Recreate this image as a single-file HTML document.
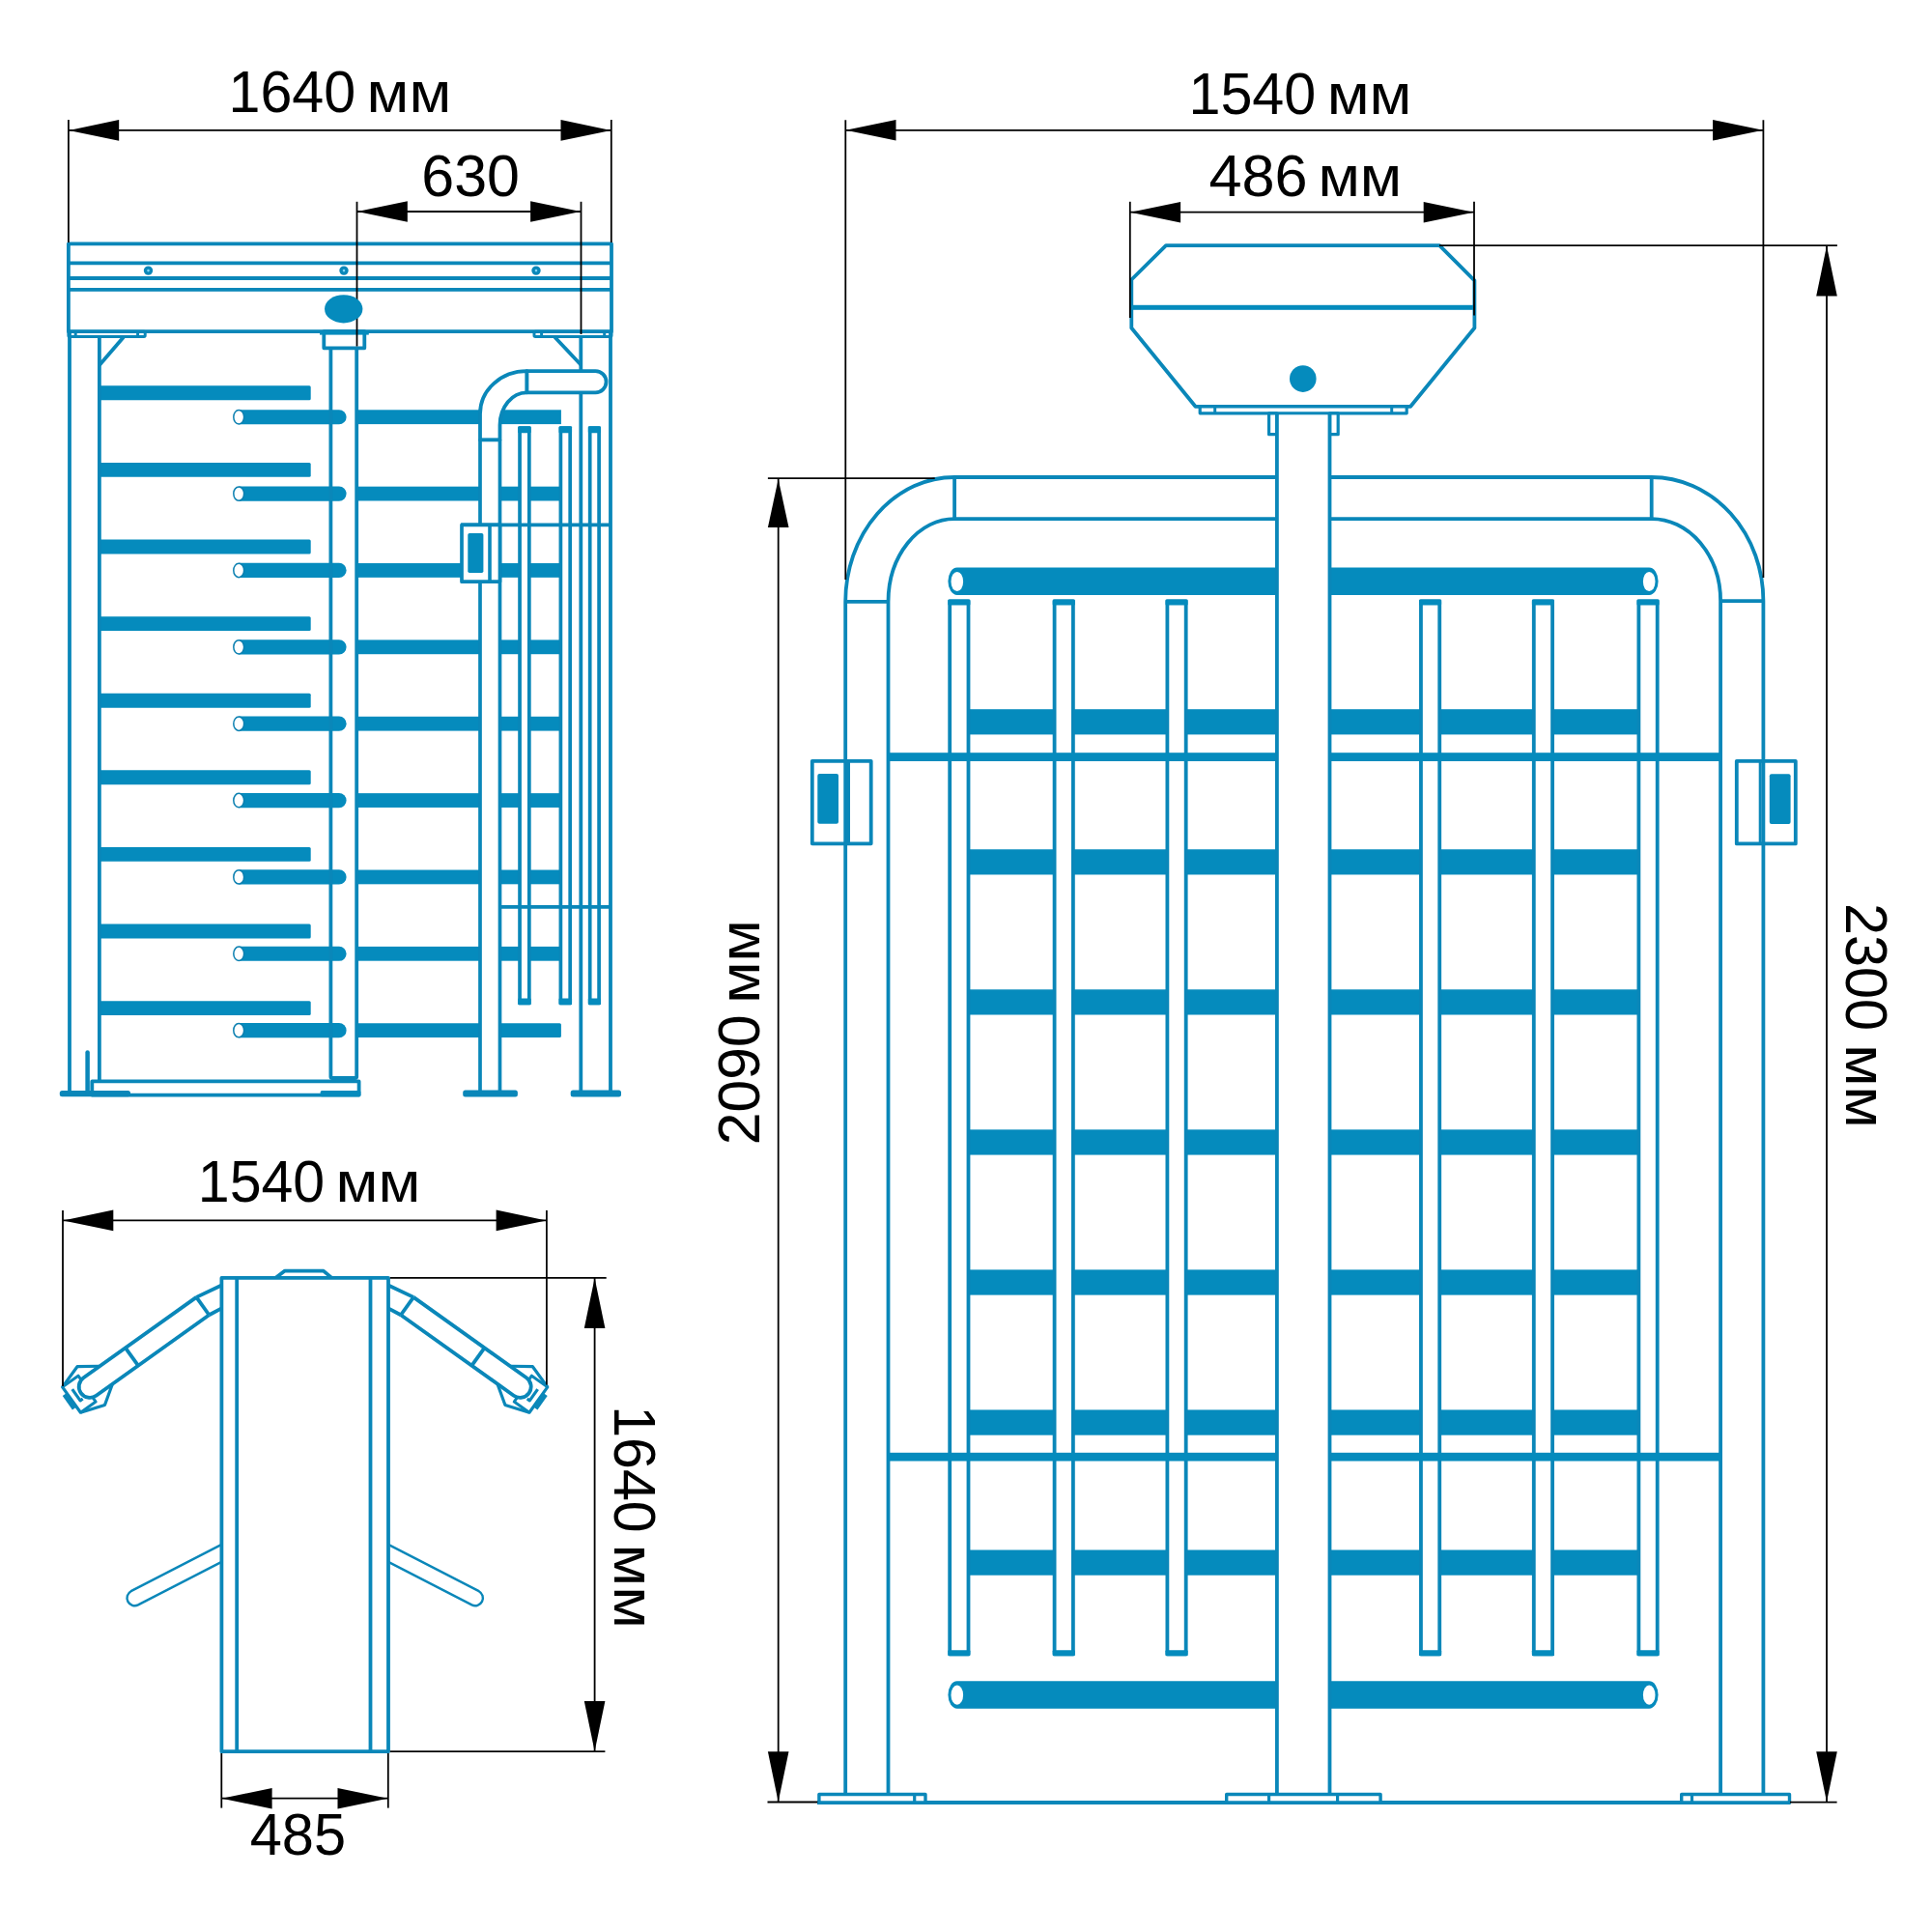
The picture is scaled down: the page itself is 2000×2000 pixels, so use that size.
<!DOCTYPE html>
<html lang="ru"><head><meta charset="utf-8"><title>Габаритные размеры турникета</title>
<style>html,body{margin:0;padding:0;background:#fff}svg{display:block}</style></head>
<body><svg width="2000" height="2000" viewBox="0 0 2000 2000">
<rect width="2000" height="2000" fill="#fff"/>
<g id="side">
<rect x="369.20" y="424.30" width="211.70" height="14.80" rx="0" fill="#058bbd"/>
<rect x="369.20" y="503.67" width="211.70" height="14.80" rx="0" fill="#058bbd"/>
<rect x="369.20" y="583.04" width="211.70" height="14.80" rx="0" fill="#058bbd"/>
<rect x="369.20" y="662.41" width="211.70" height="14.80" rx="0" fill="#058bbd"/>
<rect x="369.20" y="741.78" width="211.70" height="14.80" rx="0" fill="#058bbd"/>
<rect x="369.20" y="821.15" width="211.70" height="14.80" rx="0" fill="#058bbd"/>
<rect x="369.20" y="900.52" width="211.70" height="14.80" rx="0" fill="#058bbd"/>
<rect x="369.20" y="979.89" width="211.70" height="14.80" rx="0" fill="#058bbd"/>
<path d="M369.2 1059.26H579.4a1.5 1.5 0 0 1 1.5 1.5V1072.56a1.5 1.5 0 0 1 -1.5 1.5H369.2Z" fill="#058bbd" stroke-linejoin="round" />
<path d="M102.9 399.35H320.2a1.5 1.5 0 0 1 1.5 1.5V412.75a1.5 1.5 0 0 1 -1.5 1.5H102.9Z" fill="#058bbd" stroke-linejoin="round" />
<path d="M102.9 478.95H320.2a1.5 1.5 0 0 1 1.5 1.5V492.35a1.5 1.5 0 0 1 -1.5 1.5H102.9Z" fill="#058bbd" stroke-linejoin="round" />
<path d="M102.9 558.55H320.2a1.5 1.5 0 0 1 1.5 1.5V571.95a1.5 1.5 0 0 1 -1.5 1.5H102.9Z" fill="#058bbd" stroke-linejoin="round" />
<path d="M102.9 638.15H320.2a1.5 1.5 0 0 1 1.5 1.5V651.55a1.5 1.5 0 0 1 -1.5 1.5H102.9Z" fill="#058bbd" stroke-linejoin="round" />
<path d="M102.9 717.75H320.2a1.5 1.5 0 0 1 1.5 1.5V731.15a1.5 1.5 0 0 1 -1.5 1.5H102.9Z" fill="#058bbd" stroke-linejoin="round" />
<path d="M102.9 797.35H320.2a1.5 1.5 0 0 1 1.5 1.5V810.75a1.5 1.5 0 0 1 -1.5 1.5H102.9Z" fill="#058bbd" stroke-linejoin="round" />
<path d="M102.9 876.95H320.2a1.5 1.5 0 0 1 1.5 1.5V890.35a1.5 1.5 0 0 1 -1.5 1.5H102.9Z" fill="#058bbd" stroke-linejoin="round" />
<path d="M102.9 956.55H320.2a1.5 1.5 0 0 1 1.5 1.5V969.95a1.5 1.5 0 0 1 -1.5 1.5H102.9Z" fill="#058bbd" stroke-linejoin="round" />
<path d="M102.9 1036.15H320.2a1.5 1.5 0 0 1 1.5 1.5V1049.55a1.5 1.5 0 0 1 -1.5 1.5H102.9Z" fill="#058bbd" stroke-linejoin="round" />
<path d="M247.2 424.15H351.0a7.6 7.6 0 0 1 0 15.2H247.2Z" fill="#058bbd" stroke-linejoin="round" />
<ellipse cx="247.2" cy="431.75" rx="5.4" ry="7.2" fill="#fff" stroke="#0a7fb0" stroke-width="1.5"/>
<path d="M247.2 503.51H351.0a7.6 7.6 0 0 1 0 15.2H247.2Z" fill="#058bbd" stroke-linejoin="round" />
<ellipse cx="247.2" cy="511.11" rx="5.4" ry="7.2" fill="#fff" stroke="#0a7fb0" stroke-width="1.5"/>
<path d="M247.2 582.87H351.0a7.6 7.6 0 0 1 0 15.2H247.2Z" fill="#058bbd" stroke-linejoin="round" />
<ellipse cx="247.2" cy="590.47" rx="5.4" ry="7.2" fill="#fff" stroke="#0a7fb0" stroke-width="1.5"/>
<path d="M247.2 662.23H351.0a7.6 7.6 0 0 1 0 15.2H247.2Z" fill="#058bbd" stroke-linejoin="round" />
<ellipse cx="247.2" cy="669.83" rx="5.4" ry="7.2" fill="#fff" stroke="#0a7fb0" stroke-width="1.5"/>
<path d="M247.2 741.59H351.0a7.6 7.6 0 0 1 0 15.2H247.2Z" fill="#058bbd" stroke-linejoin="round" />
<ellipse cx="247.2" cy="749.19" rx="5.4" ry="7.2" fill="#fff" stroke="#0a7fb0" stroke-width="1.5"/>
<path d="M247.2 820.95H351.0a7.6 7.6 0 0 1 0 15.2H247.2Z" fill="#058bbd" stroke-linejoin="round" />
<ellipse cx="247.2" cy="828.55" rx="5.4" ry="7.2" fill="#fff" stroke="#0a7fb0" stroke-width="1.5"/>
<path d="M247.2 900.31H351.0a7.6 7.6 0 0 1 0 15.2H247.2Z" fill="#058bbd" stroke-linejoin="round" />
<ellipse cx="247.2" cy="907.91" rx="5.4" ry="7.2" fill="#fff" stroke="#0a7fb0" stroke-width="1.5"/>
<path d="M247.2 979.67H351.0a7.6 7.6 0 0 1 0 15.2H247.2Z" fill="#058bbd" stroke-linejoin="round" />
<ellipse cx="247.2" cy="987.27" rx="5.4" ry="7.2" fill="#fff" stroke="#0a7fb0" stroke-width="1.5"/>
<path d="M247.2 1059.03H351.0a7.6 7.6 0 0 1 0 15.2H247.2Z" fill="#058bbd" stroke-linejoin="round" />
<ellipse cx="247.2" cy="1066.63" rx="5.4" ry="7.2" fill="#fff" stroke="#0a7fb0" stroke-width="1.5"/>
<rect x="70.90" y="252.40" width="562.10" height="90.80" rx="0" fill="none" stroke="#0a87b9" stroke-width="3.8" stroke-linejoin="round"/>
<line x1="70.90" y1="272.40" x2="633.00" y2="272.40" stroke="#0a87b9" stroke-width="3.8" stroke-linecap="butt"/>
<line x1="70.90" y1="288.00" x2="633.00" y2="288.00" stroke="#0a87b9" stroke-width="3.8" stroke-linecap="butt"/>
<line x1="70.90" y1="299.90" x2="633.00" y2="299.90" stroke="#0a87b9" stroke-width="3.8" stroke-linecap="butt"/>
<circle cx="153.5" cy="280.1" r="3.0" fill="#7fd4f5" stroke="#0a87b9" stroke-width="3.4"/>
<circle cx="356" cy="280.1" r="3.0" fill="#7fd4f5" stroke="#0a87b9" stroke-width="3.4"/>
<circle cx="555" cy="280.1" r="3.0" fill="#7fd4f5" stroke="#0a87b9" stroke-width="3.4"/>
<line x1="72.00" y1="343.00" x2="72.00" y2="1131.00" stroke="#0a87b9" stroke-width="3.8" stroke-linecap="butt"/>
<line x1="102.90" y1="349.00" x2="102.90" y2="1119.40" stroke="#0a87b9" stroke-width="3.8" stroke-linecap="butt"/>
<rect x="70.90" y="343.20" width="79.30" height="5.30" rx="1.2" fill="none" stroke="#0a87b9" stroke-width="3.0" stroke-linejoin="round"/>
<line x1="78.20" y1="343.20" x2="78.20" y2="348.50" stroke="#0a87b9" stroke-width="3" stroke-linecap="butt"/>
<line x1="142.60" y1="343.20" x2="142.60" y2="348.50" stroke="#0a87b9" stroke-width="3" stroke-linecap="butt"/>
<line x1="127.90" y1="349.00" x2="102.90" y2="378.00" stroke="#0a87b9" stroke-width="3.8" stroke-linecap="butt"/>
<line x1="601.30" y1="349.00" x2="601.30" y2="1129.00" stroke="#0a87b9" stroke-width="3.8" stroke-linecap="butt"/>
<line x1="632.00" y1="343.00" x2="632.00" y2="1129.00" stroke="#0a87b9" stroke-width="3.8" stroke-linecap="butt"/>
<rect x="553.00" y="343.20" width="80.00" height="5.30" rx="1.2" fill="none" stroke="#0a87b9" stroke-width="3.0" stroke-linejoin="round"/>
<line x1="625.70" y1="343.20" x2="625.70" y2="348.50" stroke="#0a87b9" stroke-width="3" stroke-linecap="butt"/>
<line x1="560.60" y1="343.20" x2="560.60" y2="348.50" stroke="#0a87b9" stroke-width="3" stroke-linecap="butt"/>
<line x1="574.30" y1="349.00" x2="601.40" y2="377.70" stroke="#0a87b9" stroke-width="3.8" stroke-linecap="butt"/>
<rect x="335.30" y="343.20" width="42.00" height="17.10" rx="0" fill="#fff" stroke="#0a87b9" stroke-width="3.8" stroke-linejoin="round"/>
<rect x="331.00" y="343.00" width="50.80" height="3.60" rx="0" fill="#058bbd"/>
<path d="M342.4 360.3V1114.5a1.5 1.5 0 0 0 1.5 1.5H367.7a1.5 1.5 0 0 0 1.5 -1.5V360.3" fill="none" stroke="#0a87b9" stroke-width="3.8" stroke-linejoin="round" />
<line x1="348.50" y1="1116.00" x2="348.50" y2="1119.40" stroke="#0a87b9" stroke-width="3" stroke-linecap="butt"/>
<line x1="364.00" y1="1116.00" x2="364.00" y2="1119.40" stroke="#0a87b9" stroke-width="3" stroke-linecap="butt"/>
<rect x="95.30" y="1119.40" width="276.30" height="14.20" rx="0" fill="none" stroke="#0a87b9" stroke-width="3.8" stroke-linejoin="round"/>
<rect x="61.80" y="1128.90" width="73.20" height="6.40" rx="2.5" fill="#0a87b9"/>
<rect x="331.70" y="1128.90" width="41.70" height="6.40" rx="1.5" fill="#058bbd"/>
<line x1="90.60" y1="1089.50" x2="90.60" y2="1130.00" stroke="#0a87b9" stroke-width="4.5" stroke-linecap="round"/>
<path d="M545.3 384.2H616.5a11.05 11.05 0 0 1 0 22.1H545.3Z" fill="#fff" stroke="#0a87b9" stroke-width="3.8" stroke-linejoin="round" />
<path d="M545.3 384.2A48.3 44 0 0 0 497 428.2V455.5H517.5V440A27.8 33.7 0 0 1 545.3 406.3Z" fill="#fff" stroke="#0a87b9" stroke-width="3.8" stroke-linejoin="round" />
<path d="M497 455.5V1131H517.5V455.5Z" fill="#fff" stroke="#0a87b9" stroke-width="3.7" stroke-linejoin="round" />
<rect x="538.05" y="443.20" width="9.80" height="595.20" rx="0" fill="#fff" stroke="#0a87b9" stroke-width="3.7" stroke-linejoin="round"/>
<rect x="536.20" y="441.30" width="13.50" height="7.00" rx="1" fill="#058bbd"/>
<rect x="536.20" y="1033.60" width="13.50" height="6.70" rx="1" fill="#058bbd"/>
<rect x="580.40" y="443.20" width="9.80" height="595.20" rx="0" fill="#fff" stroke="#0a87b9" stroke-width="3.7" stroke-linejoin="round"/>
<rect x="578.55" y="441.30" width="13.50" height="7.00" rx="1" fill="#058bbd"/>
<rect x="578.55" y="1033.60" width="13.50" height="6.70" rx="1" fill="#058bbd"/>
<rect x="610.70" y="443.20" width="9.40" height="595.20" rx="0" fill="#fff" stroke="#0a87b9" stroke-width="3.7" stroke-linejoin="round"/>
<rect x="608.85" y="441.30" width="13.10" height="7.00" rx="1" fill="#058bbd"/>
<rect x="608.85" y="1033.60" width="13.10" height="6.70" rx="1" fill="#058bbd"/>
<line x1="477.00" y1="543.40" x2="632.00" y2="543.40" stroke="#0a87b9" stroke-width="3.7" stroke-linecap="butt"/>
<line x1="517.50" y1="938.80" x2="632.00" y2="938.80" stroke="#0a87b9" stroke-width="3.7" stroke-linecap="butt"/>
<rect x="478.00" y="543.40" width="39.50" height="58.80" rx="0" fill="#fff" stroke="#0a87b9" stroke-width="3.7" stroke-linejoin="round"/>
<line x1="507.00" y1="543.40" x2="507.00" y2="602.20" stroke="#0a87b9" stroke-width="3.6" stroke-linecap="butt"/>
<rect x="484.30" y="552.10" width="16.10" height="40.90" rx="1.7" fill="#058bbd"/>
<rect x="479.20" y="1128.40" width="56.70" height="7.00" rx="2.5" fill="#0a87b9"/>
<rect x="590.70" y="1128.40" width="52.30" height="7.00" rx="2.5" fill="#0a87b9"/>
</g>
<line x1="70.90" y1="124.00" x2="70.90" y2="251.00" stroke="#000" stroke-width="1.8" stroke-linecap="butt"/>
<line x1="632.80" y1="124.00" x2="632.80" y2="251.00" stroke="#000" stroke-width="1.8" stroke-linecap="butt"/>
<line x1="70.90" y1="134.90" x2="632.80" y2="134.90" stroke="#000" stroke-width="1.8" stroke-linecap="butt"/>
<polygon points="71.20,134.90 123.20,124.10 123.20,145.70" fill="#000"/>
<polygon points="632.50,134.90 580.50,124.10 580.50,145.70" fill="#000"/>
<line x1="369.50" y1="208.80" x2="369.50" y2="358.50" stroke="#000" stroke-width="1.8" stroke-linecap="butt"/>
<line x1="601.50" y1="208.80" x2="601.50" y2="346.00" stroke="#000" stroke-width="1.8" stroke-linecap="butt"/>
<line x1="369.50" y1="219.00" x2="601.40" y2="219.00" stroke="#000" stroke-width="1.8" stroke-linecap="butt"/>
<polygon points="369.80,219.00 421.80,208.20 421.80,229.80" fill="#000"/>
<polygon points="601.10,219.00 549.10,208.20 549.10,229.80" fill="#000"/>
<ellipse cx="355.7" cy="319.8" rx="19.7" ry="14.6" fill="#058bbd"/>
<g id="plan">
<g>
<path d="M229.4 1330.5L203.3 1342.85 M229.4 1354.3L216.5 1361.25" fill="none" stroke="#0a87b9" stroke-width="3.8" stroke-linejoin="round" />
<g transform="matrix(-0.814 0.581 0.581 0.814 93 1435.5)">
<path d="M-20 -11.8L-1.5 -24.5L23.3 -16.2V16.2L-1.5 24.5L-20 11.8" fill="#fff" stroke="#0a87b9" stroke-width="3.2" stroke-linejoin="round" />
<path d="M23.3 -16.2H3.2V-11 M23.3 16.2H4V11" fill="none" stroke="#0a87b9" stroke-width="3" stroke-linejoin="round" />
<path d="M-143.6 -11.3H0A11.3 11.3 0 0 1 0 11.3H-143.6" fill="#fff" stroke="#0a87b9" stroke-width="3.8" stroke-linejoin="round" />
<line x1="-143.60" y1="-11.30" x2="-143.60" y2="11.30" stroke="#0a87b9" stroke-width="3.8" stroke-linecap="butt"/>
<line x1="-53.40" y1="-11.30" x2="-53.40" y2="11.30" stroke="#0a87b9" stroke-width="3.8" stroke-linecap="butt"/>
<line x1="26.00" y1="-8.60" x2="26.00" y2="9.00" stroke="#0a87b9" stroke-width="5.2" stroke-linecap="butt"/>
<path d="M16.4 -8.4V5.9H13.2" fill="none" stroke="#0a87b9" stroke-width="3.2" stroke-linejoin="round" />
</g></g>
<g transform="translate(631.4 0) scale(-1 1)">
<g>
<path d="M229.4 1330.5L203.3 1342.85 M229.4 1354.3L216.5 1361.25" fill="none" stroke="#0a87b9" stroke-width="3.8" stroke-linejoin="round" />
<g transform="matrix(-0.814 0.581 0.581 0.814 93 1435.5)">
<path d="M-20 -11.8L-1.5 -24.5L23.3 -16.2V16.2L-1.5 24.5L-20 11.8" fill="#fff" stroke="#0a87b9" stroke-width="3.2" stroke-linejoin="round" />
<path d="M23.3 -16.2H3.2V-11 M23.3 16.2H4V11" fill="none" stroke="#0a87b9" stroke-width="3" stroke-linejoin="round" />
<path d="M-143.6 -11.3H0A11.3 11.3 0 0 1 0 11.3H-143.6" fill="#fff" stroke="#0a87b9" stroke-width="3.8" stroke-linejoin="round" />
<line x1="-143.60" y1="-11.30" x2="-143.60" y2="11.30" stroke="#0a87b9" stroke-width="3.8" stroke-linecap="butt"/>
<line x1="-53.40" y1="-11.30" x2="-53.40" y2="11.30" stroke="#0a87b9" stroke-width="3.8" stroke-linecap="butt"/>
<line x1="26.00" y1="-8.60" x2="26.00" y2="9.00" stroke="#0a87b9" stroke-width="5.2" stroke-linecap="butt"/>
<path d="M16.4 -8.4V5.9H13.2" fill="none" stroke="#0a87b9" stroke-width="3.2" stroke-linejoin="round" />
</g></g>
</g>
<path d="M229.4 1598.9L135.64 1647.19A8 8 0 0 0 142.96 1661.41L229.4 1616.9" fill="#fff" stroke="#0a87b9" stroke-width="2.4" stroke-linejoin="round" />
<g transform="translate(631.4 0) scale(-1 1)">
<path d="M229.4 1598.9L135.64 1647.19A8 8 0 0 0 142.96 1661.41L229.4 1616.9" fill="#fff" stroke="#0a87b9" stroke-width="2.4" stroke-linejoin="round" />
</g>
<path d="M285.1 1322.9L294.9 1315.6H334.8L343.5 1322.9" fill="#fff" stroke="#0a87b9" stroke-width="3.8" stroke-linejoin="round" />
<rect x="229.40" y="1322.90" width="172.60" height="490.30" rx="0" fill="#fff" stroke="#0a87b9" stroke-width="3.8" stroke-linejoin="round"/>
<line x1="245.20" y1="1322.90" x2="245.20" y2="1813.20" stroke="#0a87b9" stroke-width="3.8" stroke-linecap="butt"/>
<line x1="383.50" y1="1322.90" x2="383.50" y2="1813.20" stroke="#0a87b9" stroke-width="3.8" stroke-linecap="butt"/>
</g>
<line x1="65.00" y1="1252.90" x2="65.00" y2="1435.00" stroke="#000" stroke-width="1.8" stroke-linecap="butt"/>
<line x1="565.90" y1="1252.90" x2="565.90" y2="1433.40" stroke="#000" stroke-width="1.8" stroke-linecap="butt"/>
<line x1="65.00" y1="1263.40" x2="565.90" y2="1263.40" stroke="#000" stroke-width="1.8" stroke-linecap="butt"/>
<polygon points="65.30,1263.40 117.30,1252.60 117.30,1274.20" fill="#000"/>
<polygon points="565.60,1263.40 513.60,1252.60 513.60,1274.20" fill="#000"/>
<line x1="403.80" y1="1322.80" x2="627.70" y2="1322.80" stroke="#000" stroke-width="1.8" stroke-linecap="butt"/>
<line x1="403.80" y1="1813.20" x2="626.40" y2="1813.20" stroke="#000" stroke-width="1.8" stroke-linecap="butt"/>
<line x1="615.60" y1="1322.80" x2="615.60" y2="1813.20" stroke="#000" stroke-width="1.8" stroke-linecap="butt"/>
<polygon points="615.60,1323.10 604.80,1375.10 626.40,1375.10" fill="#000"/>
<polygon points="615.60,1812.90 604.80,1760.90 626.40,1760.90" fill="#000"/>
<line x1="229.30" y1="1815.00" x2="229.30" y2="1871.60" stroke="#000" stroke-width="1.8" stroke-linecap="butt"/>
<line x1="401.80" y1="1815.00" x2="401.80" y2="1871.60" stroke="#000" stroke-width="1.8" stroke-linecap="butt"/>
<line x1="229.30" y1="1861.70" x2="401.80" y2="1861.70" stroke="#000" stroke-width="1.8" stroke-linecap="butt"/>
<polygon points="229.60,1861.70 281.60,1850.90 281.60,1872.50" fill="#000"/>
<polygon points="401.50,1861.70 349.50,1850.90 349.50,1872.50" fill="#000"/>
<g id="front">
<path d="M875.2 1857.5V622.9A112.9 128.9 0 0 1 988.1 494H1709.7A115.7 128.2 0 0 1 1825.4 622.2V1857.5" fill="none" stroke="#0a87b9" stroke-width="3.8" stroke-linejoin="round" />
<path d="M919.5 1857.5V622.9A68.6 85.8 0 0 1 988.1 537.1H1709.7A71.4 85.1 0 0 1 1781.1 622.2V1857.5" fill="none" stroke="#0a87b9" stroke-width="3.8" stroke-linejoin="round" />
<line x1="988.10" y1="494.00" x2="988.10" y2="537.10" stroke="#0a87b9" stroke-width="3.8" stroke-linecap="butt"/>
<line x1="1709.70" y1="494.00" x2="1709.70" y2="537.10" stroke="#0a87b9" stroke-width="3.8" stroke-linecap="butt"/>
<line x1="875.20" y1="622.90" x2="919.50" y2="622.90" stroke="#0a87b9" stroke-width="3.8" stroke-linecap="butt"/>
<line x1="1781.10" y1="622.20" x2="1825.40" y2="622.20" stroke="#0a87b9" stroke-width="3.8" stroke-linecap="butt"/>
<rect x="1002.00" y="734.20" width="695.00" height="26.20" rx="0" fill="#058bbd"/>
<rect x="1002.00" y="879.25" width="695.00" height="26.20" rx="0" fill="#058bbd"/>
<rect x="1002.00" y="1024.30" width="695.00" height="26.20" rx="0" fill="#058bbd"/>
<rect x="1002.00" y="1169.35" width="695.00" height="26.20" rx="0" fill="#058bbd"/>
<rect x="1002.00" y="1314.40" width="695.00" height="26.20" rx="0" fill="#058bbd"/>
<rect x="1002.00" y="1459.45" width="695.00" height="26.20" rx="0" fill="#058bbd"/>
<rect x="1002.00" y="1604.50" width="695.00" height="26.20" rx="0" fill="#058bbd"/>
<rect x="983.20" y="622.40" width="19.30" height="1089.90" rx="0" fill="#fff" stroke="#0a87b9" stroke-width="3.8" stroke-linejoin="round"/>
<rect x="981.30" y="620.50" width="23.10" height="6.10" rx="1" fill="#058bbd"/>
<rect x="981.30" y="1708.20" width="23.10" height="6.00" rx="1" fill="#058bbd"/>
<rect x="1091.60" y="622.40" width="19.30" height="1089.90" rx="0" fill="#fff" stroke="#0a87b9" stroke-width="3.8" stroke-linejoin="round"/>
<rect x="1089.70" y="620.50" width="23.10" height="6.10" rx="1" fill="#058bbd"/>
<rect x="1089.70" y="1708.20" width="23.10" height="6.00" rx="1" fill="#058bbd"/>
<rect x="1208.40" y="622.40" width="19.30" height="1089.90" rx="0" fill="#fff" stroke="#0a87b9" stroke-width="3.8" stroke-linejoin="round"/>
<rect x="1206.50" y="620.50" width="23.10" height="6.10" rx="1" fill="#058bbd"/>
<rect x="1206.50" y="1708.20" width="23.10" height="6.00" rx="1" fill="#058bbd"/>
<rect x="1470.95" y="622.40" width="19.30" height="1089.90" rx="0" fill="#fff" stroke="#0a87b9" stroke-width="3.8" stroke-linejoin="round"/>
<rect x="1469.05" y="620.50" width="23.10" height="6.10" rx="1" fill="#058bbd"/>
<rect x="1469.05" y="1708.20" width="23.10" height="6.00" rx="1" fill="#058bbd"/>
<rect x="1587.80" y="622.40" width="19.30" height="1089.90" rx="0" fill="#fff" stroke="#0a87b9" stroke-width="3.8" stroke-linejoin="round"/>
<rect x="1585.90" y="620.50" width="23.10" height="6.10" rx="1" fill="#058bbd"/>
<rect x="1585.90" y="1708.20" width="23.10" height="6.00" rx="1" fill="#058bbd"/>
<rect x="1696.40" y="622.40" width="19.30" height="1089.90" rx="0" fill="#fff" stroke="#0a87b9" stroke-width="3.8" stroke-linejoin="round"/>
<rect x="1694.50" y="620.50" width="23.10" height="6.10" rx="1" fill="#058bbd"/>
<rect x="1694.50" y="1708.20" width="23.10" height="6.00" rx="1" fill="#058bbd"/>
<rect x="919.20" y="779.20" width="861.90" height="8.80" rx="0" fill="#058bbd"/>
<rect x="919.20" y="1503.80" width="861.90" height="8.70" rx="0" fill="#058bbd"/>
<path d="M990.8 587.60H1707.2A9.4 14.2 0 0 1 1707.2 616.00H990.8A9.4 14.2 0 0 1 990.8 587.60Z" fill="#058bbd" stroke-linejoin="round" />
<ellipse cx="990.8" cy="602.00" rx="6.3" ry="10.1" fill="#fff"/>
<ellipse cx="1707.2" cy="602.00" rx="6.3" ry="10.1" fill="#fff"/>
<path d="M990.8 1740.30H1707.2A9.4 14.2 0 0 1 1707.2 1768.70H990.8A9.4 14.2 0 0 1 990.8 1740.30Z" fill="#058bbd" stroke-linejoin="round" />
<ellipse cx="990.8" cy="1754.70" rx="6.3" ry="10.1" fill="#fff"/>
<ellipse cx="1707.2" cy="1754.70" rx="6.3" ry="10.1" fill="#fff"/>
<path d="M1207 254.1H1490.2L1526.4 290.3V339.5L1460.2 420.8H1237.5L1171.3 339.5V289.5Z" fill="#fff" stroke="#0a87b9" stroke-width="3.8" stroke-linejoin="round" />
<rect x="1171.30" y="315.80" width="355.10" height="5.00" rx="0" fill="#058bbd"/>
<circle cx="1348.8" cy="392.1" r="13.8" fill="#058bbd"/>
<rect x="1242.20" y="420.80" width="214.00" height="7.00" rx="0" fill="#fff" stroke="#0a87b9" stroke-width="3.2" stroke-linejoin="round"/>
<line x1="1257.70" y1="420.80" x2="1257.70" y2="427.80" stroke="#0a87b9" stroke-width="3" stroke-linecap="butt"/>
<line x1="1440.70" y1="420.80" x2="1440.70" y2="427.80" stroke="#0a87b9" stroke-width="3" stroke-linecap="butt"/>
<rect x="1313.60" y="427.80" width="8.30" height="21.90" rx="0" fill="#fff" stroke="#0a87b9" stroke-width="3.2" stroke-linejoin="round"/>
<rect x="1376.50" y="427.80" width="8.70" height="21.90" rx="0" fill="#fff" stroke="#0a87b9" stroke-width="3.2" stroke-linejoin="round"/>
<rect x="1321.9" y="429.6" width="54.6" height="1428" fill="#fff"/>
<line x1="1321.90" y1="429.00" x2="1321.90" y2="1857.50" stroke="#0a87b9" stroke-width="3.8" stroke-linecap="butt"/>
<line x1="1376.50" y1="429.00" x2="1376.50" y2="1857.50" stroke="#0a87b9" stroke-width="3.8" stroke-linecap="butt"/>
<rect x="840.80" y="787.80" width="60.90" height="85.50" rx="0" fill="none" stroke="#0a87b9" stroke-width="3.8" stroke-linejoin="round"/>
<rect x="846.30" y="801.00" width="21.70" height="51.80" rx="2" fill="#058bbd"/>
<line x1="878.50" y1="787.80" x2="878.50" y2="873.30" stroke="#0a87b9" stroke-width="3" stroke-linecap="butt"/>
<rect x="1797.80" y="787.80" width="61.00" height="85.60" rx="0" fill="none" stroke="#0a87b9" stroke-width="3.8" stroke-linejoin="round"/>
<rect x="1831.80" y="801.20" width="21.80" height="51.80" rx="2" fill="#058bbd"/>
<line x1="1822.20" y1="787.80" x2="1822.20" y2="873.40" stroke="#0a87b9" stroke-width="3" stroke-linecap="butt"/>
<line x1="846.00" y1="1866.00" x2="1853.50" y2="1866.00" stroke="#0a87b9" stroke-width="3.8" stroke-linecap="butt"/>
<rect x="847.90" y="1857.50" width="110.10" height="8.50" rx="0" fill="#fff" stroke="#0a87b9" stroke-width="3.4" stroke-linejoin="round"/>
<line x1="946.70" y1="1857.50" x2="946.70" y2="1866.00" stroke="#0a87b9" stroke-width="3.2" stroke-linecap="butt"/>
<rect x="1269.70" y="1857.50" width="159.40" height="8.50" rx="0" fill="#fff" stroke="#0a87b9" stroke-width="3.4" stroke-linejoin="round"/>
<line x1="1313.60" y1="1857.50" x2="1313.60" y2="1866.00" stroke="#0a87b9" stroke-width="3.2" stroke-linecap="butt"/>
<line x1="1384.60" y1="1857.50" x2="1384.60" y2="1866.00" stroke="#0a87b9" stroke-width="3.2" stroke-linecap="butt"/>
<rect x="1740.70" y="1857.50" width="111.80" height="8.50" rx="0" fill="#fff" stroke="#0a87b9" stroke-width="3.4" stroke-linejoin="round"/>
<line x1="1751.50" y1="1857.50" x2="1751.50" y2="1866.00" stroke="#0a87b9" stroke-width="3.2" stroke-linecap="butt"/>
</g>
<line x1="875.30" y1="124.20" x2="875.30" y2="600.00" stroke="#000" stroke-width="1.8" stroke-linecap="butt"/>
<line x1="1825.40" y1="124.20" x2="1825.40" y2="598.00" stroke="#000" stroke-width="1.8" stroke-linecap="butt"/>
<line x1="875.20" y1="134.80" x2="1825.40" y2="134.80" stroke="#000" stroke-width="1.8" stroke-linecap="butt"/>
<polygon points="875.50,134.80 927.50,124.00 927.50,145.60" fill="#000"/>
<polygon points="1825.10,134.80 1773.10,124.00 1773.10,145.60" fill="#000"/>
<line x1="1169.80" y1="208.80" x2="1169.80" y2="329.00" stroke="#000" stroke-width="1.8" stroke-linecap="butt"/>
<line x1="1526.00" y1="208.80" x2="1526.00" y2="326.60" stroke="#000" stroke-width="1.8" stroke-linecap="butt"/>
<line x1="1169.80" y1="219.70" x2="1526.00" y2="219.70" stroke="#000" stroke-width="1.8" stroke-linecap="butt"/>
<polygon points="1170.10,219.70 1222.10,208.90 1222.10,230.50" fill="#000"/>
<polygon points="1525.70,219.70 1473.70,208.90 1473.70,230.50" fill="#000"/>
<line x1="794.90" y1="495.10" x2="967.70" y2="495.10" stroke="#000" stroke-width="1.8" stroke-linecap="butt"/>
<line x1="794.50" y1="1865.50" x2="846.30" y2="1865.50" stroke="#000" stroke-width="1.8" stroke-linecap="butt"/>
<line x1="805.70" y1="495.60" x2="805.70" y2="1865.40" stroke="#000" stroke-width="1.8" stroke-linecap="butt"/>
<polygon points="805.70,495.90 794.90,545.90 816.50,545.90" fill="#000"/>
<polygon points="805.70,1865.20 794.90,1813.20 816.50,1813.20" fill="#000"/>
<line x1="1490.00" y1="254.20" x2="1901.90" y2="254.20" stroke="#000" stroke-width="1.8" stroke-linecap="butt"/>
<line x1="1853.00" y1="1865.60" x2="1901.60" y2="1865.60" stroke="#000" stroke-width="1.8" stroke-linecap="butt"/>
<line x1="1891.00" y1="254.20" x2="1891.00" y2="1865.40" stroke="#000" stroke-width="1.8" stroke-linecap="butt"/>
<polygon points="1891.00,254.50 1880.20,306.50 1901.80,306.50" fill="#000"/>
<polygon points="1891.00,1865.20 1880.20,1813.20 1901.80,1813.20" fill="#000"/>
<g font-family="'Liberation Sans', Arial, sans-serif" fill="#000">
<g transform="translate(0.00 115.90) rotate(0)">
<text font-size="61.7" transform="translate(236.50 0) scale(0.9598 1)">1640</text>
<text font-size="60.0" transform="translate(379.60 0) scale(1.0622 1)">мм</text>
</g>
<g transform="translate(0.00 203.30) rotate(0)">
<text font-size="61.7" transform="translate(436.29 0) scale(0.9881 1)">630</text>
</g>
<g transform="translate(0.00 1243.90) rotate(0)">
<text font-size="61.7" transform="translate(204.81 0) scale(0.9575 1)">1540</text>
<text font-size="60.0" transform="translate(347.60 0) scale(1.0635 1)">мм</text>
</g>
<g transform="translate(636.40 0.00) rotate(90)">
<text font-size="61.7" transform="translate(1455.21 0) scale(0.9575 1)">1640</text>
<text font-size="60.0" transform="translate(1598.62 0) scale(1.0582 1)">мм</text>
</g>
<g transform="translate(0.00 1919.50) rotate(0)">
<text font-size="61.7" transform="translate(258.73 0) scale(0.9656 1)">485</text>
</g>
<g transform="translate(0.00 117.80) rotate(0)">
<text font-size="61.7" transform="translate(1230.39 0) scale(0.9614 1)">1540</text>
<text font-size="60.0" transform="translate(1373.70 0) scale(1.0635 1)">мм</text>
</g>
<g transform="translate(0.00 202.80) rotate(0)">
<text font-size="61.7" transform="translate(1251.49 0) scale(0.9931 1)">486</text>
<text font-size="60.0" transform="translate(1364.44 0) scale(1.0528 1)">мм</text>
</g>
<g transform="translate(785.90 0.00) rotate(-90)">
<text font-size="61.7" transform="translate(-1185.23 0) scale(0.9831 1)">2090</text>
<text font-size="60.0" transform="translate(-1038.84 0) scale(1.0487 1)">мм</text>
</g>
<g transform="translate(1910.60 0.00) rotate(90)">
<text font-size="61.7" transform="translate(934.93 0) scale(0.9633 1)">2300</text>
<text font-size="60.0" transform="translate(1081.15 0) scale(1.0501 1)">мм</text>
</g>
</g>
</svg></body></html>
